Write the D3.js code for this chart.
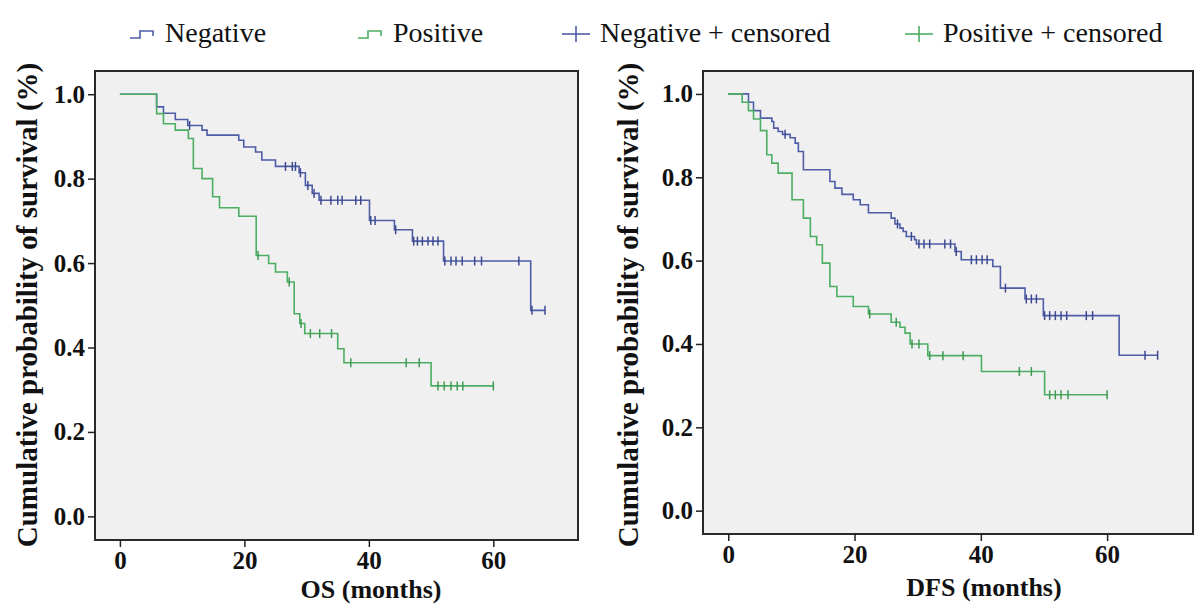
<!DOCTYPE html>
<html>
<head>
<meta charset="utf-8">
<script src="https://cdn.jsdelivr.net/npm/d3@7"></script>
<style>
  body { margin: 0; background: #fff; }
  svg text { font-family: "Liberation Serif", Tinos, "Times New Roman", Times, "DejaVu Serif", serif; fill: #111; }
</style>
</head>
<body>
<script>
// series: [time in months, survival after that time]
var osNegSteps = [[0,1.0],[5.9,0.97],[7,0.955],[8.9,0.94],[10.9,0.926],[13.2,0.915],[14,0.903],
  [19.1,0.891],[19.9,0.875],[21.8,0.863],[22.8,0.844],[25,0.829],[28.8,0.814],[29.8,0.784],
  [30.9,0.765],[32,0.749],[40.1,0.701],[44.1,0.679],[47,0.652],[52,0.605],[66,0.488]];
var osNegCensored = [11.2,26.6,27.7,28.2,29,30.2,31.2,32.3,33.9,35,35.7,37.9,38.7,40.3,41,44.3,
  47.2,47.8,48.6,49.5,50.3,51.1,52.2,53.2,54,55,57,58.1,64.1,66.2,68.3];

var osPosSteps = [[0,1.0],[5.9,0.954],[7,0.93],[8.9,0.915],[11,0.895],[11.8,0.824],[13.2,0.8],
  [14.9,0.757],[16,0.731],[19.1,0.711],[21.9,0.618],[23.9,0.599],[25,0.579],[26.9,0.555],
  [28,0.48],[28.9,0.457],[29.7,0.433],[35,0.397],[36,0.364],[50,0.309]];
var osPosCensored = [22.2,27.2,29.1,30.6,32.1,34,37.1,46,48.1,51.1,52.1,53.2,54.2,55.1,60];

var dfsNegSteps = [[0,1.0],[3.2,0.98],[4,0.96],[5.1,0.942],[6.9,0.934],[7.2,0.918],[7.9,0.91],
  [8.6,0.903],[9.8,0.895],[10.6,0.882],[11.1,0.862],[11.9,0.818],[16.1,0.79],[16.9,0.774],
  [18,0.759],[19.8,0.746],[20.9,0.734],[22.2,0.715],[25.8,0.702],[26.4,0.688],[27.2,0.678],
  [27.7,0.67],[28.2,0.658],[29.5,0.65],[29.8,0.64],[35.9,0.622],[36.9,0.602],[41.9,0.586],
  [43.1,0.534],[47,0.508],[49.9,0.468],[61.9,0.373]];
var dfsNegCensored = [9,26.8,29,30.2,31,31.9,34.3,35.2,36.1,38.5,39.3,40.2,41,43.9,47.2,48,48.8,
  50.1,50.9,51.8,52.7,53.6,56.7,57.7,66,68];

var dfsPosSteps = [[0,1.0],[2.2,0.98],[3.2,0.96],[4,0.94],[5.1,0.912],[6.1,0.854],[6.9,0.834],
  [7.9,0.81],[10.1,0.746],[11.9,0.702],[13,0.658],[14,0.638],[14.9,0.594],[16.1,0.538],
  [17.2,0.514],[19.8,0.49],[22.2,0.472],[25.8,0.452],[27.2,0.44],[28,0.426],[28.8,0.4],
  [31.6,0.372],[40.1,0.334],[50.1,0.278]];
var dfsPosCensored = [22.4,26.6,29.1,30.2,31.9,34,37.2,46.1,48,50.9,51.8,52.7,53.8,60];

var xTicks = [0, 20, 40, 60];
var yTicks = [0, 0.2, 0.4, 0.6, 0.8, 1.0];
var legendLabels = ["Negative", "Positive", "Negative + censored", "Positive + censored"];
var yTitle = "Cumulative probability of survival (%)";

var blue = "#4f5ca6", green = "#4cae63";
var serif = '"Liberation Serif", Tinos, "Times New Roman", Times, "DejaVu Serif", serif';

var svg = d3.select("body").append("svg")
    .attr("width", 1195)
    .attr("height", 606)
    .attr("font-family", serif);

// survival at time t
function survAt(steps, t) {
  var s = steps[0][1];
  for (var i = 0; i < steps.length; i++) {
    if (steps[i][0] <= t) s = steps[i][1];
  }
  return s;
}

function drawPanel(box, title, series) {
  var x = d3.scaleLinear().domain([-4, 73.6]).range([box.left, box.right]);
  var y = d3.scaleLinear().domain([-0.056, 1.055]).range([box.bottom, box.top]);

  svg.append("rect")
      .attr("x", box.left).attr("y", box.top)
      .attr("width", box.right - box.left).attr("height", box.bottom - box.top)
      .attr("fill", "#f0f0f0")
      .attr("stroke", "#2a2a2a")
      .attr("stroke-width", 2);

  var yAxis = svg.append("g")
      .attr("transform", "translate(" + box.left + ",0)")
      .call(d3.axisLeft(y).tickValues(yTicks).tickFormat(d3.format(".1f")).tickSize(7).tickPadding(3));
  var xAxis = svg.append("g")
      .attr("transform", "translate(0," + box.bottom + ")")
      .call(d3.axisBottom(x).tickValues(xTicks).tickSize(7).tickPadding(4));

  [yAxis, xAxis].forEach(function(a) {
    a.attr("font-family", serif);
    a.select(".domain").remove();
    a.selectAll("line").attr("stroke", "#222").attr("stroke-width", 1.5);
    a.selectAll("text")
        .attr("font-family", serif)
        .attr("font-weight", "bold")
        .attr("font-size", 25)
        .attr("fill", "#111");
  });

  svg.append("text")
      .attr("x", box.titleX).attr("y", box.titleY)
      .attr("text-anchor", "middle")
      .attr("font-weight", "bold")
      .attr("font-size", 26)
      .text(title);

  svg.append("text")
      .attr("transform", "translate(" + box.yTitleX + "," + box.yTitleY + ") rotate(-90)")
      .attr("text-anchor", "middle")
      .attr("font-weight", "bold")
      .attr("font-size", 29)
      .text(yTitle);

  var line = d3.line()
      .x(function(d) { return x(d[0]); })
      .y(function(d) { return y(d[1]); })
      .curve(d3.curveStepAfter);

  series.forEach(function(s) {
    var end = d3.max(s.censored);
    var pts = s.steps.concat([[end, s.steps[s.steps.length - 1][1]]]);
    svg.append("path")
        .attr("d", line(pts))
        .attr("fill", "none")
        .attr("stroke", s.color)
        .attr("stroke-width", 1.6);

    svg.selectAll(null)
        .data(s.censored)
      .enter().append("line")
        .attr("x1", function(d) { return x(d); })
        .attr("x2", function(d) { return x(d); })
        .attr("y1", function(d) { return y(survAt(s.steps, d)) - 4.5; })
        .attr("y2", function(d) { return y(survAt(s.steps, d)) + 4.5; })
        .attr("stroke", s.dark)
        .attr("stroke-width", 1.5);
  });
}

drawPanel({left: 95, right: 578, top: 71, bottom: 540, titleX: 371, titleY: 598, yTitleX: 37, yTitleY: 305},
  "OS (months)",
  [{steps: osNegSteps, censored: osNegCensored, color: blue, dark: "#3d4a92"},
   {steps: osPosSteps, censored: osPosCensored, color: green, dark: "#3f9a55"}]);

drawPanel({left: 703, right: 1193, top: 71, bottom: 534, titleX: 984, titleY: 596, yTitleX: 638, yTitleY: 305},
  "DFS (months)",
  [{steps: dfsNegSteps, censored: dfsNegCensored, color: blue, dark: "#3d4a92"},
   {steps: dfsPosSteps, censored: dfsPosCensored, color: green, dark: "#3f9a55"}]);

// legend
var legendX = [130, 358, 562, 905];
var legendColors = [blue, green, blue, green];
var legend = svg.selectAll(".legend")
    .data(legendLabels)
  .enter().append("g")
    .attr("class", "legend")
    .attr("transform", function(d, i) { return "translate(" + legendX[i] + ",0)"; });

legend.each(function(d, i) {
  var g = d3.select(this);
  if (i < 2) {
    g.append("path")
        .attr("d", "M0,38 H10 V31 H23 V36")
        .attr("fill", "none")
        .attr("stroke", legendColors[i])
        .attr("stroke-width", 1.6);
    g.append("text").attr("x", 35).attr("y", 42)
        .attr("font-size", 28).text(d);
  } else {
    g.append("line").attr("x1", 0).attr("x2", 28).attr("y1", 34).attr("y2", 34)
        .attr("stroke", legendColors[i]).attr("stroke-width", 1.6);
    g.append("line").attr("x1", 14).attr("x2", 14).attr("y1", 26).attr("y2", 42)
        .attr("stroke", legendColors[i]).attr("stroke-width", 1.6);
    g.append("text").attr("x", 38).attr("y", 42)
        .attr("font-size", 28).text(d);
  }
});
</script>
</body>
</html>
